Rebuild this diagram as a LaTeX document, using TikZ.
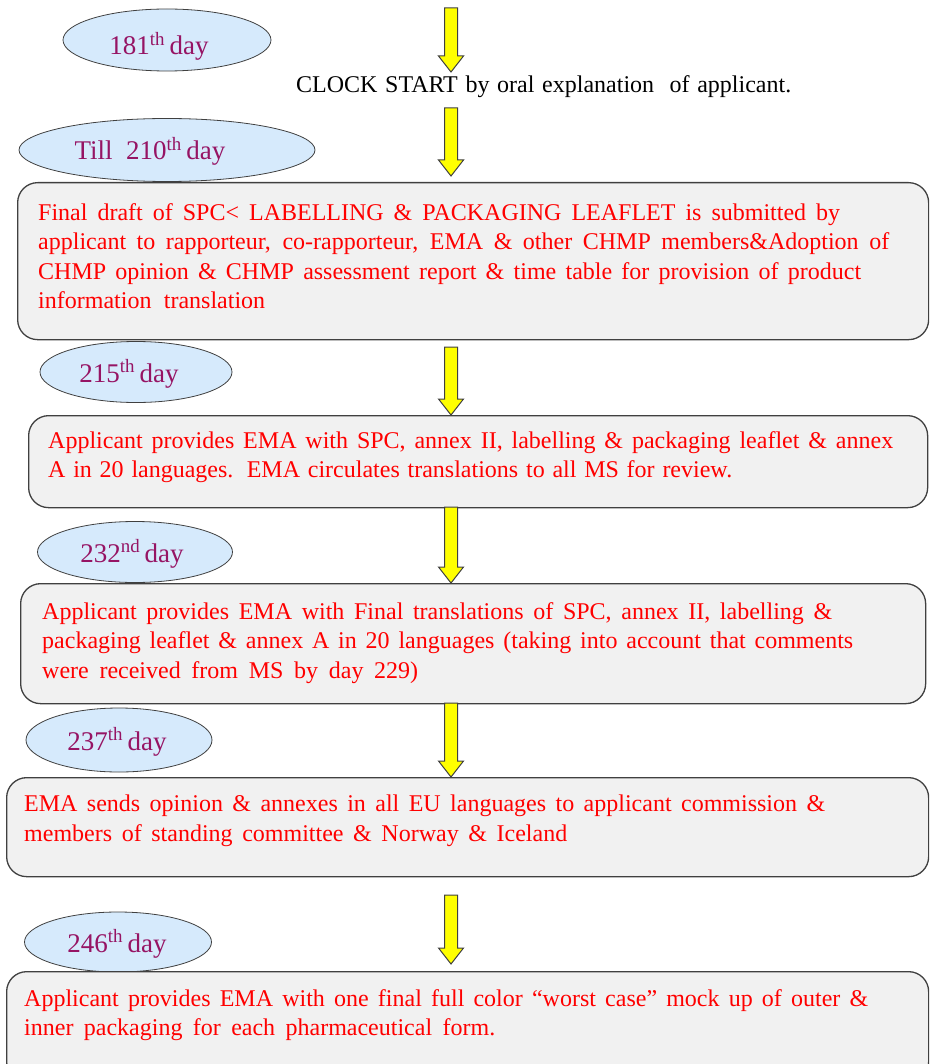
\documentclass[tikz,border=0pt]{standalone}
\usepackage{fontspec}
\setmainfont{Liberation Serif}
\usetikzlibrary{shapes.geometric,calc}

\definecolor{dayfill}{RGB}{214,234,252}
\definecolor{daytext}{RGB}{150,20,100}
\definecolor{boxfill}{RGB}{241,241,241}
\definecolor{edgegray}{RGB}{64,64,64}
\definecolor{arrowfill}{RGB}{255,255,0}

% one text line spread to a given width (in pt)
\newcommand\fitline[2]{\makebox[#1pt][s]{#2}}
% yellow block arrow pointing down from #1 to #2
\newcommand\blockdown[2]{%
  \draw[yarrow] let \p1=(#1), \p2=(#2) in
    (\x1-6.5pt,\y1) -- (\x1+6.5pt,\y1) -- (\x1+6.5pt,\y2+16pt) -- (\x1+12.5pt,\y2+16pt)
    -- (\x1,\y2) -- (\x1-12.5pt,\y2+16pt) -- (\x1-6.5pt,\y2+16pt) -- cycle;}

\begin{document}
\begin{tikzpicture}[x=1pt,y=-1pt,
  day/.style={ellipse, draw=edgegray, line width=0.8pt, fill=dayfill, inner sep=0pt},
  daylabel/.style={anchor=base, inner sep=0pt, text=daytext, font=\fontsize{27}{30}\selectfont},
  stagebox/.style={draw=edgegray, line width=1.3pt, fill=boxfill, rounded corners=20pt,
                   anchor=north west, inner sep=0pt},
  stagetext/.style={anchor=north west, inner sep=0pt, align=left, text=red,
                    font=\fontsize{24}{29.5}\selectfont},
  yarrow/.style={draw=edgegray, line width=1pt, fill=arrowfill, line join=miter}
]
\useasboundingbox (0,0) rectangle (929,1064);
\clip (0,0) rectangle (929,1064);

% ---- day markers
\node[day, minimum width=208pt, minimum height=62pt] (d1) at (167,40) {};
\node[daylabel] (d1t) at (159,55) {181\textsuperscript{th}\,day};
\node[day, minimum width=296pt, minimum height=63pt] (d2) at (167,150) {};
\node[daylabel] (d2t) at (150,160) {Till\ \ 210\textsuperscript{th}\,day};
\node[day, minimum width=192pt, minimum height=61pt] (d3) at (136,372) {};
\node[daylabel] (d3t) at (129,382) {215\textsuperscript{th}\,day};
\node[day, minimum width=195pt, minimum height=61pt] (d4) at (135,552) {};
\node[daylabel] (d4t) at (132,562) {232\textsuperscript{nd}\,day};
\node[day, minimum width=186pt, minimum height=64pt] (d5) at (119,740) {};
\node[daylabel] (d5t) at (117,750) {237\textsuperscript{th}\,day};
\node[day, minimum width=187pt, minimum height=60pt] (d6) at (118,942) {};
\node[daylabel] (d6t) at (117,952) {246\textsuperscript{th}\,day};

% ---- clock start line
\node[anchor=base west, inner sep=0pt, font=\fontsize{24}{28}\selectfont] (clock) at (296,93)
  {\fitline{495}{CLOCK START by oral explanation\ \ of applicant.}};

% ---- stage boxes
\node[stagebox, minimum width=911pt, minimum height=157pt] (b1) at (17,182) {};
\node[stagetext] (b1t) at (38,203) {%
  \fitline{802}{Final  draft  of  SPC< LABELLING  \&  PACKAGING  LEAFLET  is  submitted  by}\\
  \fitline{851}{applicant  to rapporteur,  co-rapporteur,  EMA  \&  other  CHMP members\&Adoption  of}\\
  \fitline{823}{CHMP opinion  \&  CHMP assessment  report  \&  time  table  for  provision  of  product}\\
  \fitline{227}{information  translation}};

\node[stagebox, minimum width=899pt, minimum height=92pt] (b2) at (28,415) {};
\node[stagetext] (b2t) at (48,431) {%
  \fitline{845}{Applicant  provides  EMA  with  SPC, annex  II, labelling  \&  packaging  leaflet  \&  annex}\\
  \fitline{684}{A in  20  languages.  EMA  circulates  translations  to all  MS for  review.}};

\node[stagebox, minimum width=905pt, minimum height=120pt] (b3) at (20,583) {};
\node[stagetext] (b3t) at (42,602) {%
  \fitline{790}{Applicant  provides  EMA  with  Final  translations  of  SPC, annex  II, labelling  \&}\\
  \fitline{811}{packaging  leaflet  \&  annex  A in  20  languages  (taking  into  account  that  comments}\\
  \fitline{376}{were  received  from  MS  by  day  229)}};

\node[stagebox, minimum width=922pt, minimum height=99pt] (b4) at (6,777) {};
\node[stagetext] (b4t) at (24,795) {%
  \fitline{801}{EMA  sends  opinion  \&  annexes  in  all  EU  languages  to  applicant  commission  \&}\\
  \fitline{543}{members  of  standing  committee  \&  Norway  \&  Iceland}};

\node[stagebox, minimum width=922pt, minimum height=110pt] (b5) at (6,971) {};
\node[stagetext] (b5t) at (24,989) {%
  \fitline{844}{Applicant  provides  EMA  with  one  final  full  color  “worst  case”  mock  up  of  outer  \&}\\
  \fitline{471}{inner  packaging  for  each  pharmaceutical  form.}};

% ---- arrow ends
\coordinate (a1s) at (451,8);
\coordinate (a1e) at (451,72);
\coordinate (a2s) at (451,108);
\coordinate (a2e) at (451,176);
\coordinate (a3s) at (451,347);
\coordinate (a4s) at (451,507);
\coordinate (a5s) at (451,703);
\coordinate (a6s) at (451,895);
\coordinate (a6e) at (451,964);

% ---- arrows
\blockdown{a1s}{a1e}
\blockdown{a2s}{a2e}
\blockdown{a3s}{b2.north -| a3s}
\blockdown{a4s}{b3.north -| a4s}
\blockdown{a5s}{b4.north -| a5s}
\blockdown{a6s}{a6e}
\end{tikzpicture}
\end{document}
